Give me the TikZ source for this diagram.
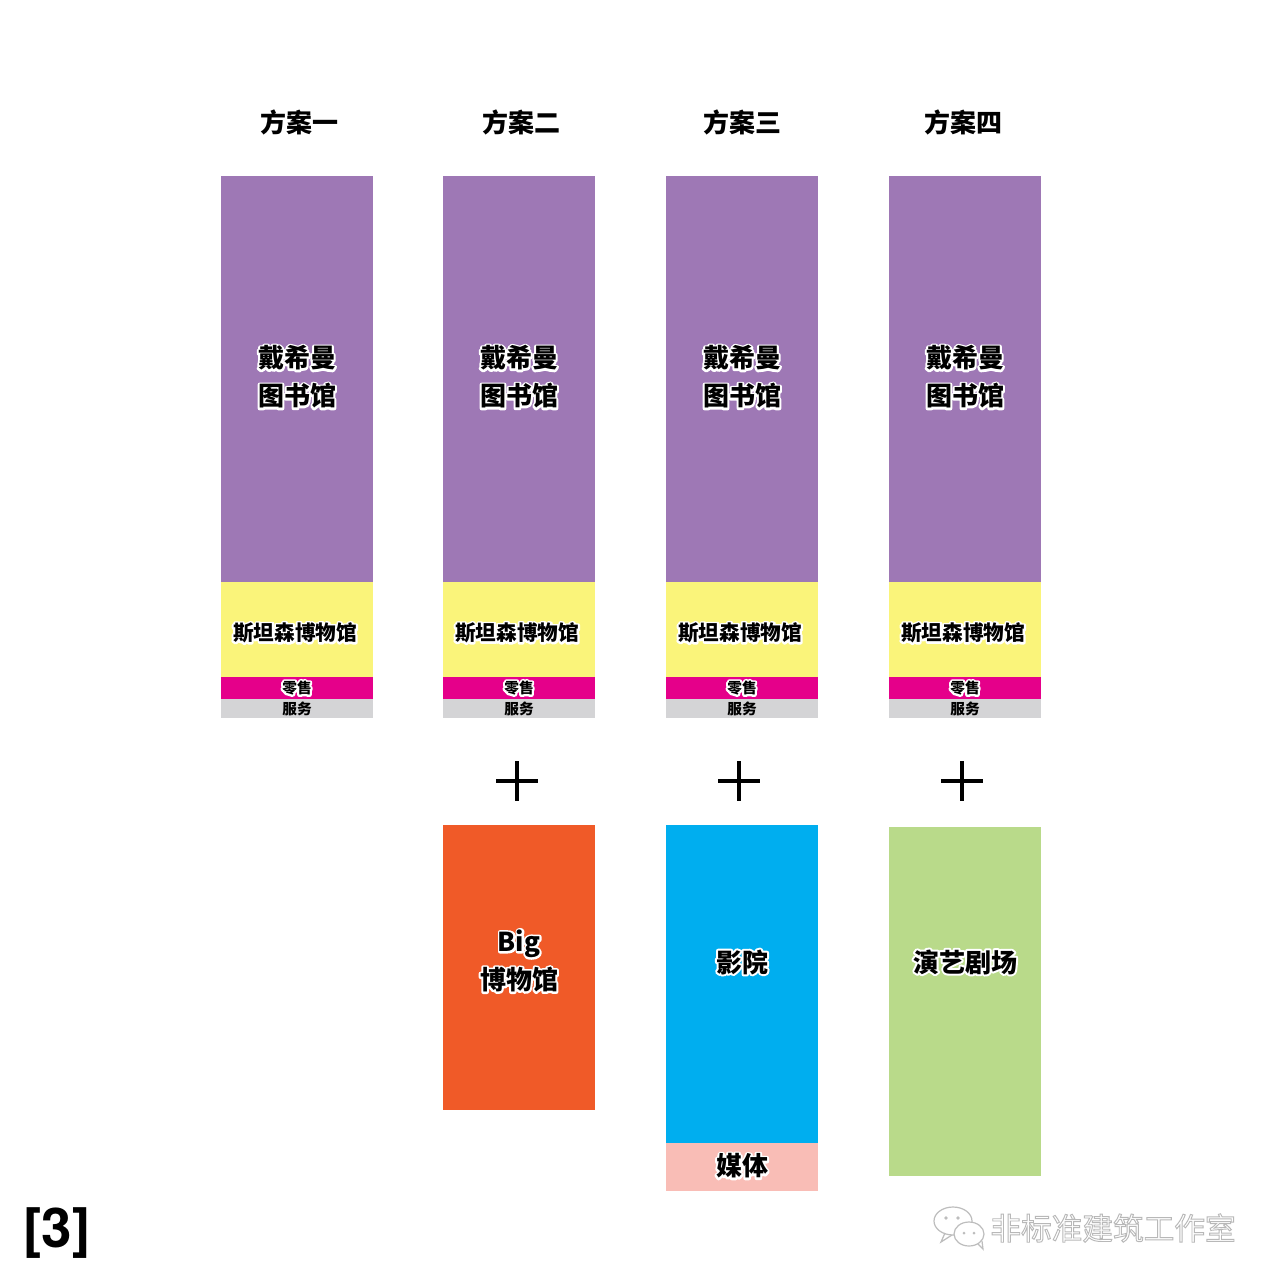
\documentclass[tikz,border=0pt]{standalone}
\usepackage{fontspec}
\newfontfamily\cjk{Noto Sans CJK SC}
\newfontfamily\heros{TeX Gyre Heros}
\definecolor{cpurple}{HTML}{9E78B5}
\definecolor{cyellow}{HTML}{FAF47A}
\definecolor{cmagenta}{HTML}{E5008A}
\definecolor{cgrey}{HTML}{D4D4D6}
\definecolor{corange}{HTML}{F05A28}
\definecolor{cblue}{HTML}{00AEEF}
\definecolor{cpink}{HTML}{F9BDB6}
\definecolor{cgreen}{HTML}{B9DA8A}
\definecolor{wm}{HTML}{BDBDBD}
% outlined text: white stroke copy, then black fill on top
\newcommand{\ol}[1]{\leavevmode\rlap{\color{white}\special{pdf:literal direct 1 Tr 3 w 1 j}#1\special{pdf:literal direct 0 Tr}}#1}
\tikzset{
  big/.style={font=\cjk\bfseries\fontsize{19.5}{28.5}\selectfont, align=center, inner sep=0pt},
  mid/.style={font=\cjk\bfseries\fontsize{15.5}{18}\selectfont, align=center, inner sep=0pt},
  small/.style={font=\cjk\bfseries\fontsize{11}{12}\selectfont, align=center, inner sep=0pt},
  head/.style={font=\cjk\bfseries\fontsize{19.5}{24}\selectfont, inner sep=0pt},
  plusline/.style={line width=3pt, black},
}
\begin{document}
\begin{tikzpicture}[x=0.75pt,y=-0.75pt]
\useasboundingbox[fill=white] (0,0) rectangle (1280,1286);
% headers
\node[head] (h1) at (299,122) {方案一};
\node[head] (h2) at (521,122) {方案二};
\node[head] (h3) at (742,122) {方案三};
\node[head] (h4) at (963,122) {方案四};
% columns
\foreach \i/\x in {1/221,2/443,3/666,4/889} {
  \fill[cpurple] (\x,176) rectangle (\x+152,582);
  \fill[cyellow] (\x,582) rectangle (\x+152,677);
  \fill[cmagenta] (\x,677) rectangle (\x+152,699);
  \fill[cgrey] (\x,699) rectangle (\x+152,718);
  \node[big] (libt\i) at (\x+76,377) {\ol{戴希曼}\\\ol{图书馆}};
  \node[mid] (must\i) at (\x+74,633) {\ol{斯坦森博物馆}};
  \node[small] (rett\i) at (\x+76,688) {\ol{零售}};
  \node[small] (sert\i) at (\x+76,709) {服务};
}
% plus signs
\foreach \i/\x in {2/517,3/739,4/962} {
  \coordinate (p\i) at (\x,781);
  \draw[plusline] ([xshift=-21*0.75pt]p\i) -- ([xshift=21*0.75pt]p\i);
  \draw[plusline] ([yshift=20*0.75pt]p\i) -- ([yshift=-20*0.75pt]p\i);
}
% lower blocks
\fill[corange] (443,825) rectangle (595,1110);
\fill[cblue] (666,825) rectangle (818,1143);
\fill[cpink] (666,1143) rectangle (818,1191);
\fill[cgreen] (889,827) rectangle (1041,1176);
\node[big] (bigt) at (519,961) {\ol{Big}\\\ol{博物馆}};
\node[big] (cint) at (742,962) {\ol{影院}};
\node[big] (medt) at (742,1166) {\ol{媒体}};
\node[big] (thet) at (965,962) {\ol{演艺剧场}};
% figure number
\node[font=\heros\bfseries\fontsize{41}{44}\selectfont, inner sep=0pt] (num) at (57,1233) {[3]};
% watermark
\begin{scope}[draw=wm, line width=0.9pt]
  \draw[fill=white] (953,1221) ellipse (19 and 14);
  \draw (945,1233) -- (941,1242) -- (952,1235);
  \draw[fill=white] (969,1234) ellipse (15 and 12);
  \draw (978,1244) -- (983,1249) -- (982,1241);
  \fill[wm] (946,1218) circle (1.8);
  \fill[wm] (958,1218) circle (1.8);
  \fill[wm] (964,1233) circle (1.5);
  \fill[wm] (974,1233) circle (1.5);
\end{scope}
\node[font=\cjk\fontsize{23}{24}\selectfont, inner sep=0pt] (wmt) at (1113,1228)
  {\color{white}\special{pdf:literal direct 2 Tr 0.7 w 0.72 G}非标准建筑工作室\special{pdf:literal direct 0 Tr}};
\end{tikzpicture}
\end{document}
